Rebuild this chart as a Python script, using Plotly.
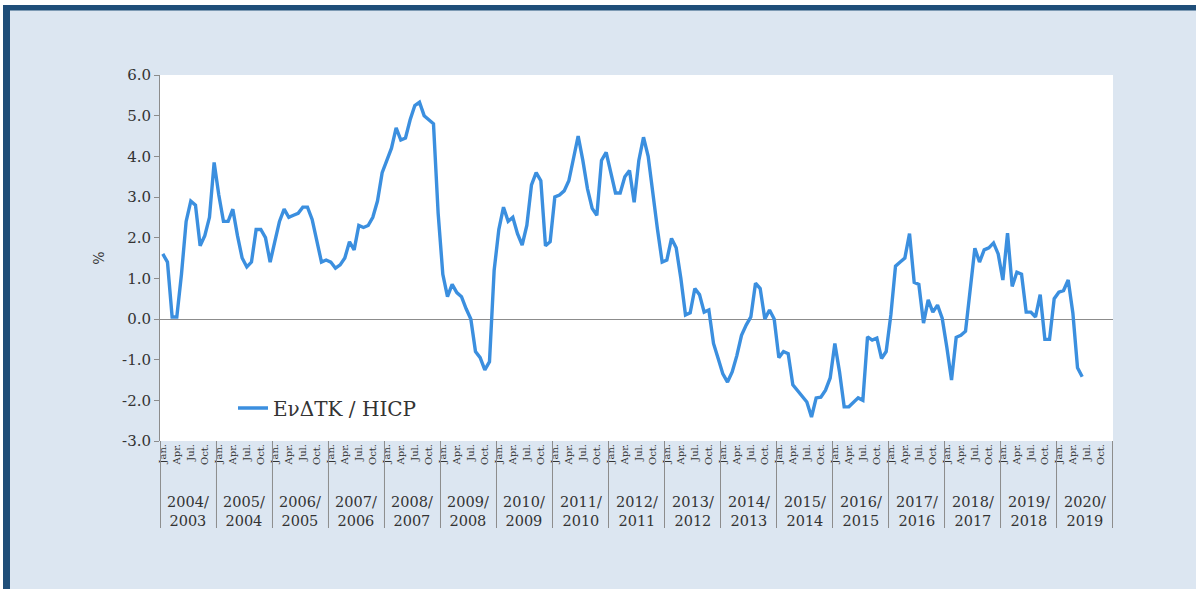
import plotly.graph_objects as go

# ---------------- data ----------------
years = list(range(2004, 2021))
year_labels = [f"{y}/<br>{y-1}" for y in years]
quarter_labels = ["Jan.", "Apr.", "Jul.", "Oct."]
y_ticks = [-3, -2, -1, 0, 1, 2, 3, 4, 5, 6]
y_tick_labels = ["-3.0", "-2.0", "-1.0", "0.0", "1.0", "2.0", "3.0", "4.0", "5.0", "6.0"]
series_name = "ΕνΔΤΚ / HICP"

# monthly values, Jan 2004 - Jun 2020 (%)
hicp_2004 = [1.6, 1.4, 0.05, 0.05, 1.1, 2.4, 2.9, 2.8, 1.8, 2.05, 2.5, 3.85]
hicp_2005 = [3.05, 2.4, 2.4, 2.7, 2.05, 1.5, 1.28, 1.4, 2.2, 2.2, 2.0, 1.4]
hicp_2006 = [1.9, 2.4, 2.7, 2.5, 2.55, 2.6, 2.75, 2.75, 2.45, 1.9, 1.4, 1.45]
hicp_2007 = [1.4, 1.25, 1.33, 1.5, 1.9, 1.7, 2.3, 2.25, 2.3, 2.5, 2.9, 3.6]
hicp_2008 = [3.9, 4.2, 4.7, 4.4, 4.45, 4.9, 5.25, 5.33, 5.0, 4.9, 4.8, 2.6]
hicp_2009 = [1.1, 0.55, 0.85, 0.65, 0.55, 0.25, 0.0, -0.8, -0.95, -1.25, -1.05, 1.2]
hicp_2010 = [2.2, 2.75, 2.4, 2.5, 2.1, 1.82, 2.3, 3.3, 3.6, 3.4, 1.8, 1.9]
hicp_2011 = [3.0, 3.05, 3.15, 3.4, 4.0, 4.5, 3.9, 3.2, 2.72, 2.55, 3.9, 4.1]
hicp_2012 = [3.6, 3.1, 3.1, 3.5, 3.65, 2.87, 3.9, 4.47, 4.0, 3.05, 2.2, 1.4]
hicp_2013 = [1.45, 1.98, 1.75, 1.0, 0.1, 0.15, 0.75, 0.6, 0.17, 0.22, -0.6, -0.97]
hicp_2014 = [-1.35, -1.55, -1.3, -0.9, -0.4, -0.15, 0.05, 0.88, 0.75, 0.0, 0.22, 0.0]
hicp_2015 = [-0.95, -0.8, -0.85, -1.62, -1.75, -1.9, -2.04, -2.41, -1.94, -1.92, -1.75, -1.45]
hicp_2016 = [-0.6, -1.3, -2.16, -2.16, -2.04, -1.94, -2.0, -0.44, -0.52, -0.47, -0.97, -0.8]
hicp_2017 = [0.1, 1.3, 1.4, 1.5, 2.1, 0.9, 0.85, -0.1, 0.47, 0.17, 0.34, 0.02]
hicp_2018 = [-0.7, -1.5, -0.45, -0.4, -0.3, 0.7, 1.74, 1.4, 1.7, 1.75, 1.87, 1.6]
hicp_2019 = [0.96, 2.11, 0.8, 1.15, 1.1, 0.17, 0.17, 0.05, 0.6, -0.5, -0.5, 0.5]
hicp_2020 = [0.66, 0.7, 0.96, 0.15, -1.2, -1.42]

hicp = (hicp_2004 + hicp_2005 + hicp_2006 + hicp_2007 + hicp_2008 + hicp_2009
        + hicp_2010 + hicp_2011 + hicp_2012 + hicp_2013 + hicp_2014 + hicp_2015
        + hicp_2016 + hicp_2017 + hicp_2018 + hicp_2019 + hicp_2020)

# ---------------- styling ----------------
W, H = 1196, 589
ML, MR, MT, MB = 160, 83, 75, 148
BG = "#dce6f1"
BORDER = "#1f4e79"
LINE = "#3b8fdf"
TXT = "#333333"
SERIF = "DejaVu Serif"

n_slots = len(years) * 12
x_idx = list(range(len(hicp)))
tickvals = list(range(0, n_slots, 3))
ticktext = quarter_labels * len(years)

fig = go.Figure()
fig.add_trace(go.Scatter(
    x=x_idx, y=hicp, mode="lines", name=series_name,
    line=dict(color=LINE, width=3.4),
))

pw = W - ML - MR
ph = H - MT - MB


def px_x(p):
    return (p - ML) / pw


def px_y(p):
    return (H - MB - p) / ph


shapes = []
# white outer strip and dark frame (top + left)
shapes.append(dict(type="rect", xref="paper", yref="paper", x0=px_x(-5), x1=px_x(W + 5),
                   y0=px_y(5), y1=px_y(-5), fillcolor="white", line_width=0, layer="below"))
shapes.append(dict(type="rect", xref="paper", yref="paper", x0=px_x(-5), x1=px_x(3),
                   y0=px_y(H + 5), y1=px_y(-5), fillcolor="white", line_width=0, layer="below"))
shapes.append(dict(type="rect", xref="paper", yref="paper", x0=px_x(3), x1=px_x(W + 5),
                   y0=px_y(10.5), y1=px_y(5), fillcolor=BORDER, line_width=0, layer="below"))
shapes.append(dict(type="rect", xref="paper", yref="paper", x0=px_x(3), x1=px_x(10),
                   y0=px_y(H + 5), y1=px_y(5), fillcolor=BORDER, line_width=0, layer="below"))

# year group dividers
for k in range(len(years) + 1):
    shapes.append(dict(type="line", xref="x", yref="paper",
                       x0=12 * k - 0.5, x1=12 * k - 0.5,
                       y0=0, y1=px_y(528), line=dict(color="#8c8c8c", width=1)))

annotations = []
for k, lab in enumerate(year_labels):
    annotations.append(dict(
        x=12 * k + 5.5, xref="x", y=px_y(511), yref="paper",
        text=lab, showarrow=False, xanchor="center", yanchor="middle",
        font=dict(family=SERIF, size=14.5, color=TXT), align="center",
    ))

fig.update_layout(
    width=W, height=H,
    margin=dict(l=ML, r=MR, t=MT, b=MB, pad=0),
    paper_bgcolor=BG, plot_bgcolor="white",
    showlegend=True,
    legend=dict(x=px_x(233), y=px_y(408), xanchor="left", yanchor="middle",
                bgcolor="rgba(0,0,0,0)", font=dict(family=SERIF, size=20, color=TXT)),
    shapes=shapes, annotations=annotations,
    xaxis=dict(
        range=[-0.6, n_slots - 0.4], tickmode="array", tickvals=tickvals, ticktext=ticktext,
        tickangle=-90, tickfont=dict(family=SERIF, size=10, color=TXT),
        showgrid=False, zeroline=False, showline=False, ticks="",
    ),
    yaxis=dict(
        range=[-3, 6], tickmode="array", tickvals=y_ticks, ticktext=y_tick_labels,
        tickfont=dict(family=SERIF, size=15, color=TXT),
        showgrid=False, zeroline=True, zerolinecolor="#8c8c8c", zerolinewidth=1,
        showline=True, linecolor="#8c8c8c", linewidth=1,
        ticks="outside", ticklen=5, tickcolor="#8c8c8c",
        title=dict(text="%", font=dict(family=SERIF, size=14, color=TXT), standoff=14),
    ),
)

fig.write_html("out.html", config={"displayModeBar": False},
               post_script="document.body.style.margin='0';document.body.style.padding='0';")
